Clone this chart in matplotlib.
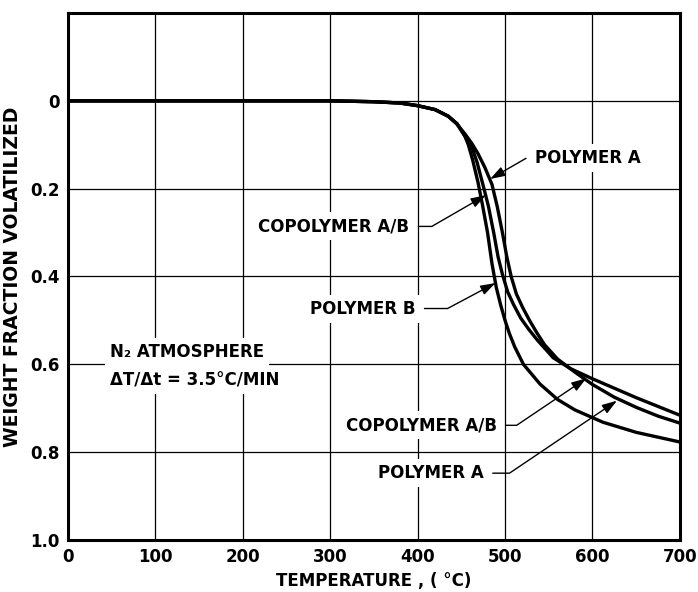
import matplotlib
matplotlib.use("Agg")
import matplotlib.pyplot as plt

plt.rcParams['font.family'] = ['DejaVu Sans']
plt.rcParams['font.weight'] = 'bold'
plt.rcParams['axes.labelweight'] = 'bold'

# temperature (deg C) vs weight fraction volatilized
temp_b = [0, 300, 350, 380, 400, 420, 435, 445, 454, 458, 463, 469, 474, 480,
          485, 490, 495, 500, 505, 511, 521, 540, 560, 580, 612, 650, 700]
frac_b = [0, 0, 0.002, 0.005, 0.011, 0.02, 0.035, 0.052, 0.08, 0.10, 0.135, 0.185,
          0.235, 0.30, 0.37, 0.425, 0.465, 0.50, 0.53, 0.56, 0.60, 0.645, 0.68,
          0.704, 0.732, 0.755, 0.777]

temp_ab = [0, 300, 350, 380, 400, 420, 435, 445, 454, 462, 468, 475, 481, 487,
           492, 497, 503, 510, 518, 527, 537, 547, 555, 575, 600, 650, 700]
frac_ab = [0, 0, 0.002, 0.005, 0.011, 0.02, 0.035, 0.052, 0.08, 0.105, 0.14, 0.193,
           0.24, 0.30, 0.355, 0.395, 0.435, 0.465, 0.495, 0.52, 0.545, 0.567, 0.585,
           0.61, 0.633, 0.676, 0.716]

temp_a = [0, 300, 350, 380, 400, 420, 435, 445, 454, 462, 469, 477, 485, 491,
          497, 502, 507, 513, 520, 528, 536, 545, 560, 580, 600, 625, 650, 675, 700]
frac_a = [0, 0, 0.002, 0.005, 0.011, 0.02, 0.035, 0.053, 0.075, 0.097, 0.12, 0.152,
          0.19, 0.24, 0.30, 0.355, 0.40, 0.44, 0.47, 0.50, 0.527, 0.555, 0.588,
          0.618, 0.646, 0.675, 0.698, 0.718, 0.734]

x_ticks = [0, 100, 200, 300, 400, 500, 600, 700]
y_ticks = [0, 0.2, 0.4, 0.6, 0.8, 1.0]
y_labels = ['0', '0.2', '0.4', '0.6', '0.8', '1.0']

fig = plt.figure(figsize=(6.98, 5.92), dpi=100)
ax = fig.add_axes([0.0974, 0.088, 0.8766, 0.89])

for t, f in [(temp_b, frac_b), (temp_ab, frac_ab), (temp_a, frac_a)]:
    ax.plot(t, f, color='black', lw=2.4, solid_joinstyle='round', zorder=3)

ax.set_xlim(0, 700)
ax.set_ylim(1.0, -0.2)
ax.set_xticks(x_ticks)
ax.set_yticks(y_ticks)
ax.set_yticklabels(y_labels)
ax.tick_params(length=0, labelsize=12, pad=6)
ax.grid(True, color='black', lw=0.9)
ax.set_axisbelow(True)
for s in ax.spines.values():
    s.set_linewidth(2.2)

ax.set_xlabel('TEMPERATURE , ( °C)', fontsize=12, labelpad=4)
ax.set_ylabel('WEIGHT FRACTION VOLATILIZED', fontsize=13.5, labelpad=6)

box = dict(boxstyle='square,pad=0.3', fc='white', ec='none')
arrow = dict(arrowstyle='-|>,head_length=0.75,head_width=0.25', color='black',
             lw=1.0, shrinkA=3, shrinkB=0, mutation_scale=12)

# (label, arrow tip, text centre, angle of the slanted leg)
notes = [
    ('POLYMER A', (483, 0.178), (595, 0.13), 30),
    ('COPOLYMER A/B', (478, 0.215), (304, 0.286), 30),
    ('POLYMER B', (489, 0.415), (337, 0.473), 28),
    ('COPOLYMER A/B', (593, 0.632), (404, 0.739), 34),
    ('POLYMER A', (628, 0.683), (415, 0.848), 34),
]
for label, tip, pos, ang in notes:
    ax.annotate(label, xy=tip, xytext=pos, ha='center', va='center',
                fontsize=12, bbox=box, zorder=5,
                arrowprops=dict(arrow, connectionstyle=f'angle,angleA=0,angleB={ang},rad=0'))

ax.text(48, 0.573, 'N₂ ATMOSPHERE', fontsize=12, va='center', ha='left',
        bbox=box, zorder=5)
ax.text(48, 0.636, 'ΔT/Δt = 3.5°C/MIN', fontsize=12, va='center', ha='left',
        bbox=box, zorder=5)

fig.savefig('out.png', dpi=100)
